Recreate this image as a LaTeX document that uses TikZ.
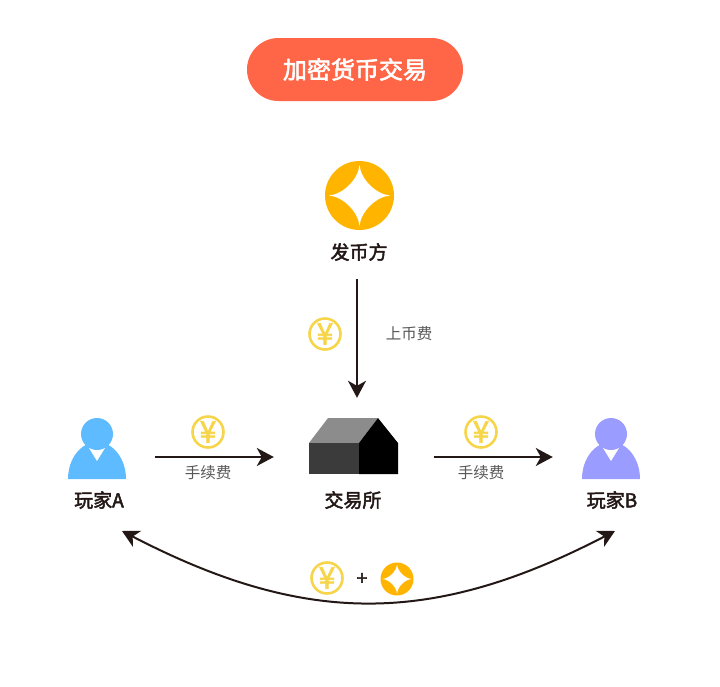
\documentclass[tikz,border=0pt]{standalone}
\usepackage{fontspec}
\usepackage{xcolor}
\setmainfont{Noto Sans CJK SC}
\newfontfamily\labelfont[FakeBold=2.4]{Noto Sans CJK SC}
\usetikzlibrary{arrows.meta,positioning}

\definecolor{titlered}{HTML}{FF6647}
\definecolor{coinorange}{HTML}{FFB400}
\definecolor{coinyellow}{HTML}{F7D54A}
\definecolor{inkdark}{HTML}{231815}
\definecolor{inkgray}{HTML}{595757}
\definecolor{playerblue}{HTML}{5FBBFF}
\definecolor{playerviolet}{HTML}{9A9CFF}

\tikzset{
  pics/player/.style={code={
    \fill[#1] (-29,45) arc[start angle=180, end angle=360, x radius=29, y radius=37] -- cycle;
    \fill[white] (-8,14) -- (0,27) -- (8,14) -- cycle;
    \fill[#1] (0,0) circle (16);
  }},
}

\begin{document}
\begin{tikzpicture}[x=1pt, y=-1pt, flow/.style={-{Stealth[length=17pt,width=18pt,inset=5pt]}, line width=2pt, draw=inkdark},
  biglabel/.style={font=\fontsize{19}{19}\selectfont\labelfont, text=inkdark, inner sep=0pt},
  feelabel/.style={font=\fontsize{15.5}{15.5}\selectfont, text=inkgray, inner sep=0pt},
  hitbox/.style={inner sep=0pt, minimum width=116pt, minimum height=60pt},
  yuancoin/.style={circle, draw=coinyellow, line width=2.6pt, inner sep=0pt, minimum size=31pt, text=coinyellow, font=\fontsize{30}{30}\selectfont\labelfont},
  starcoin/.style={circle, fill=coinorange, inner sep=0pt, minimum size=2*#1, path picture={
    \fill[white, shift={(path picture bounding box.center)}]
      (0,-.88*#1) .. controls (.04*#1,-.47*#1) and (.47*#1,-.04*#1) .. (.88*#1,0)
      .. controls (.47*#1,.04*#1) and (.04*#1,.47*#1) .. (0,.88*#1)
      .. controls (-.04*#1,.47*#1) and (-.47*#1,.04*#1) .. (-.88*#1,0)
      .. controls (-.47*#1,-.04*#1) and (-.04*#1,-.47*#1) .. (0,-.88*#1) -- cycle;}}]
\useasboundingbox (0,0) rectangle (720,686);

% title
\node[fill=titlered, rounded corners=31.5pt, minimum width=216pt, minimum height=63pt, inner sep=0pt, text=white, font=\fontsize{24}{24}\selectfont\labelfont] (title) at (355,69.5) {加密货币交易};

% issuer
\node[starcoin=34.5] (issuer) at (359.5,195.5) {};
\node[biglabel] (issuerlabel) at (359,252) {发币方};
\coordinate (listtop) at (357,279);

% exchange
\node[inner sep=0pt, minimum width=160pt, minimum height=118pt] (house) at (354,457) {};
\fill[gray!90!white] (309,443) -- (328,418) -- (378,418) -- (359,443) -- cycle;
\fill[black!77] (309,443) rectangle (359,474);
\fill[black] (359,443) -- (378,418) -- (398,443) -- (398,474) -- (359,474) -- cycle;
\node[biglabel] (houselabel) at (353,500) {交易所};

% players
\node[hitbox] (playerA) at (97,457) {};
\node[hitbox] (playerB) at (611,457) {};
\pic at (97,434) {player=playerblue};
\pic at (611,434) {player=playerviolet};
\node[biglabel] (labelA) at (99,500) {玩家A};
\node[biglabel] (labelB) at (612,500) {玩家B};

% fees
\node[yuancoin] (coinlist) at (325,334) {¥};
\node[feelabel] (listfee) at (409,334) {上币费};
\node[yuancoin] (coinA) at (208,432) {¥};
\node[feelabel, below=16pt of coinA] (feeA) {手续费};
\node[yuancoin] (coinB) at (481,432) {¥};
\node[feelabel, below=16pt of coinB] (feeB) {手续费};

% trade between players
\coordinate (tradeA) at (122,531);
\coordinate (tradeB) at (615,531);
\node[yuancoin] (cointrade) at (327,578) {¥};
\node[font=\fontsize{19}{19}\selectfont\labelfont, text=inkdark, inner sep=0pt] (plus) at (362,579) {+};
\node[starcoin=16.5] (startrade) at (397,579) {};

\draw[flow] (listtop) -- (listtop |- house.north);
\draw[flow] (playerA) -- (house);
\draw[flow] (house) -- (playerB);
\draw[flow, {Stealth[length=17pt,width=18pt,inset=5pt]}-{Stealth[length=17pt,width=18pt,inset=5pt]}] (tradeA) .. controls (305,626) and (432,626) .. (tradeB);
\end{tikzpicture}
\end{document}
